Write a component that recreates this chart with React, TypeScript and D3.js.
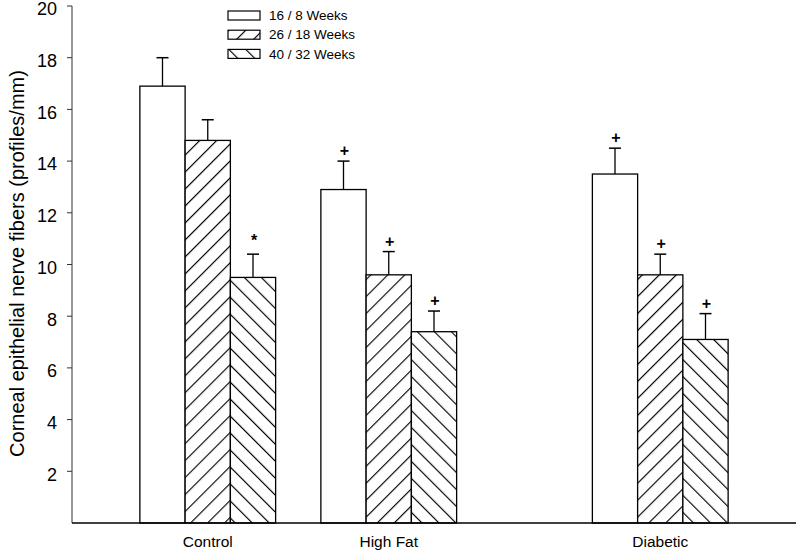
import React from "react";
import * as d3 from "d3";

const categories = ["Control", "High Fat", "Diabetic"];
const categoryPositions = [1, 2, 3.5];
const seriesNames = ["16 / 8 Weeks", "26 / 18 Weeks", "40 / 32 Weeks"];
const means = [
  [16.9, 14.8, 9.5],
  [12.9, 9.6, 7.4],
  [13.5, 9.6, 7.1],
];
const errors = [
  [1.1, 0.8, 0.9],
  [1.1, 0.9, 0.8],
  [1.0, 0.8, 1.0],
];
const markers = [
  ["", "", "*"],
  ["+", "+", "+"],
  ["+", "+", "+"],
];
const yTicks = [2, 4, 6, 8, 10, 12, 14, 16, 18, 20];
const yLabel = "Corneal epithelial nerve fibers (profiles/mm)";

const W = 796;
const H = 552;
const FONT = "Arial, 'Liberation Sans', Helvetica, sans-serif";

export default function App() {
  const x = d3.scaleLinear().domain([0.25, 4.25]).range([72, 796]);
  const y = d3.scaleLinear().domain([0, 20]).range([523, 6]);
  const barW = x(0.25) - x(0);
  const offsets = [-0.25, 0, 0.25];
  const fills = ["#fff", "url(#hatchF)", "url(#hatchB)"];

  return (
    <svg
      width={W}
      height={H}
      style={{ position: "absolute", left: 0, top: 0, background: "#fff" }}
      fontFamily={FONT}
    >
      <defs>
        <pattern id="hatchF" patternUnits="userSpaceOnUse" width={12} height={12} patternTransform="rotate(45)">
          <rect width={12} height={12} fill="#fff" />
          <line x1={0.5} y1={0} x2={0.5} y2={12} stroke="#000" strokeWidth={1.3} />
        </pattern>
        <pattern id="hatchB" patternUnits="userSpaceOnUse" width={12} height={12} patternTransform="rotate(-45)">
          <rect width={12} height={12} fill="#fff" />
          <line x1={0.5} y1={0} x2={0.5} y2={12} stroke="#000" strokeWidth={1.3} />
        </pattern>
      </defs>

      {/* bars */}
      {categories.map((c, ci) =>
        means[ci].map((v, si) => {
          const cx = x(categoryPositions[ci] + offsets[si]);
          const top = y(v);
          const eTop = y(v + errors[ci][si]);
          return (
            <g key={c + si}>
              <rect
                x={cx - barW / 2}
                y={top}
                width={barW}
                height={y(0) - top}
                fill={fills[si]}
                stroke="#000"
                strokeWidth={1.3}
              />
              <line x1={cx} x2={cx} y1={top} y2={eTop} stroke="#000" strokeWidth={1.3} />
              <line x1={cx - 6} x2={cx + 6} y1={eTop} y2={eTop} stroke="#000" strokeWidth={1.5} />
              {markers[ci][si] && (
                <text
                  x={cx + 1}
                  y={eTop - (markers[ci][si] === "*" ? 8 : 5)}
                  textAnchor="middle"
                  fontSize={16}
                  fontWeight="bold"
                  fill="#000"
                >
                  {markers[ci][si]}
                </text>
              )}
            </g>
          );
        })
      )}

      {/* axes */}
      <line x1={72} x2={72} y1={y(20)} y2={y(0)} stroke="#333" strokeWidth={1} />
      <line x1={72} x2={796} y1={y(0)} y2={y(0)} stroke="#000" strokeWidth={1.5} />
      {yTicks.map((t) => (
        <g key={t}>
          <line x1={67} x2={72} y1={y(t)} y2={y(t)} stroke="#333" strokeWidth={1} />
          <text x={57} y={y(t) + 3} dy="0.35em" textAnchor="end" fontSize={18} fill="#000">
            {t}
          </text>
        </g>
      ))}
      {categories.map((c, ci) => (
        <text key={c} x={x(categoryPositions[ci])} y={547} textAnchor="middle" fontSize={15.5} fill="#000">
          {c}
        </text>
      ))}
      <text
        transform={`translate(24, ${y(10) - 1})rotate(-90)`}
        textAnchor="middle"
        fontSize={20}
        fill="#000"
      >
        {yLabel}
      </text>

      {/* legend */}
      {seriesNames.map((s, si) => (
        <g key={s} transform={`translate(228, ${11 + si * 19.2})`}>
          <rect x={0} y={0} width={32} height={9} fill={fills[si]} stroke="#000" strokeWidth={1.2} />
          <text x={41} y={4.5} dy="0.35em" fontSize={13.5} fill="#000">
            {s}
          </text>
        </g>
      ))}
    </svg>
  );
}
